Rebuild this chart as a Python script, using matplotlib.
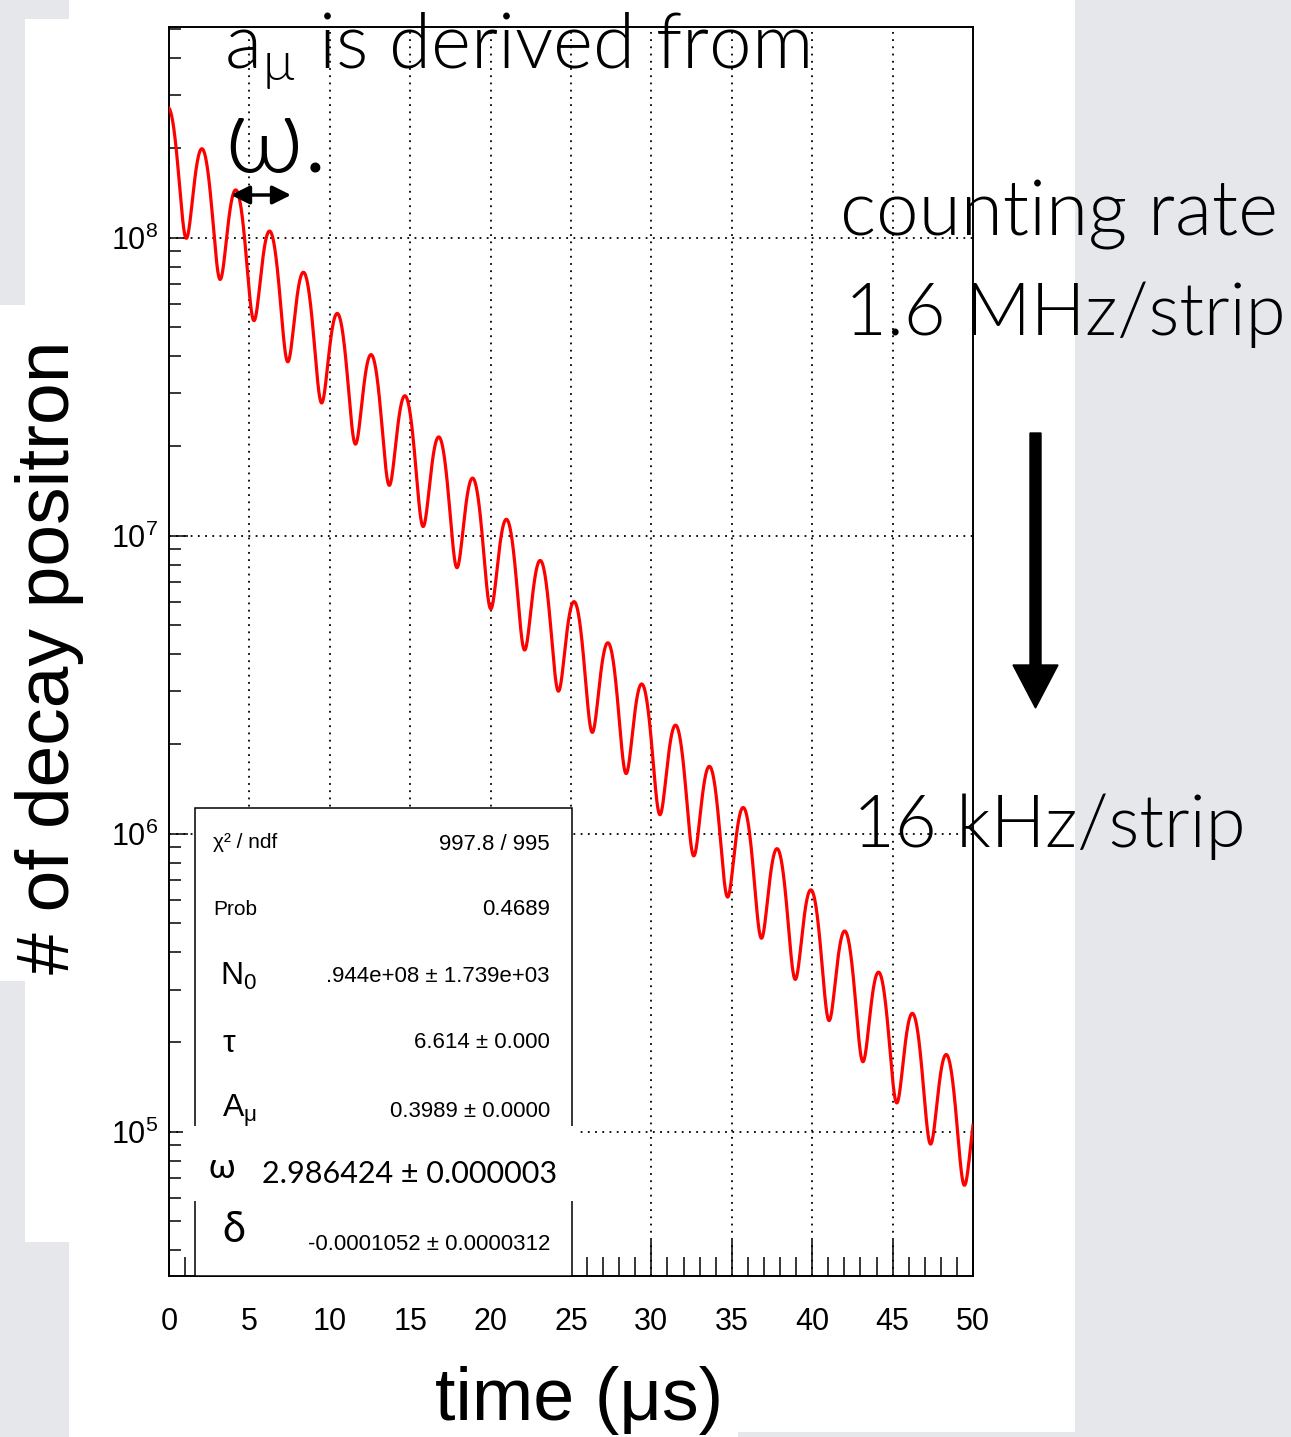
"""
Muon decay positron time spectrum (g-2 wiggle plot) with fit stat box
and slide annotations.
"""

import numpy as np
import matplotlib.pyplot as plt
from matplotlib.patches import Rectangle, FancyArrow

# ---------------------------------------------------------------------------
# data: fit result as printed in the stat box
# ---------------------------------------------------------------------------
N0 = 1.944e8
tau = 6.614
A_mu = 0.3989
omega = 2.986424
delta = -0.0001052

t_min, t_max = 0.0, 50.0
y_min, y_max = 3.28e4, 5.09e8
x_ticks = [0, 5, 10, 15, 20, 25, 30, 35, 40, 45, 50]
y_ticks = [1e5, 1e6, 1e7, 1e8]

stat_names = ["χ² / ndf", "Prob", r"N$_\mathregular{0}$", "τ",
              r"A$_\mathregular{μ}$", "ω", "δ"]
stat_values = ["997.8 / 995", "0.4689", ".944e+08 ± 1.739e+03",
               "6.614 ± 0.000", "0.3989 ± 0.0000", "2.986424 ± 0.000003",
               "-0.0001052 ± 0.0000312"]

W, H = 1291, 1437
ROOT_FONT = "Liberation Sans"
SLIDE_FONT = ["Lato", "Open Sans", "DejaVu Sans"]
SLIDE_WEIGHT = 300

plt.rcParams["font.family"] = [ROOT_FONT, "DejaVu Sans"]
plt.rcParams["mathtext.fontset"] = "custom"
plt.rcParams["mathtext.rm"] = ROOT_FONT
plt.rcParams["mathtext.it"] = ROOT_FONT


def fx(x):
    return x / W


def fy(y):
    return 1 - y / H


def wiggle(t):
    return N0 * np.exp(-t / tau) * (1 + A_mu * np.cos(omega * t + delta))


fig = plt.figure(figsize=(W / 100, H / 100), dpi=100)
fig.patch.set_facecolor("#e5e7ea")

# white picture area pasted on the slide
for (x0, y0, x1, y1) in [(69, 0, 1075, 1432), (25, 19, 69, 1242),
                         (0, 305, 25, 981), (69, 1432, 738, 1437)]:
    fig.add_artist(Rectangle((fx(x0), fy(y1)), fx(x1 - x0), (y1 - y0) / H,
                             transform=fig.transFigure, facecolor="white",
                             edgecolor="none", zorder=-5))

ax = fig.add_axes([fx(169), fy(1276), fx(973 - 169), (1276 - 27) / H])
ax.set_facecolor("white")
ax.set_yscale("log")
ax.set_xlim(t_min, t_max)
ax.set_ylim(y_min, y_max)

t = np.linspace(t_min, t_max, 3000)
ax.plot(t, wiggle(t), color="#ff0000", lw=2.3, zorder=3)

ax.set_xticks(x_ticks)
ax.set_xticks(np.arange(t_min, t_max + 0.5, 1.0), minor=True)
ax.set_yticks(y_ticks)
ax.grid(True, which="major", color="black", lw=1.3, ls=(0, (1, 3)))
for s in ["left", "right", "top", "bottom"]:
    ax.spines[s].set_linewidth(1.4)
ax.tick_params(axis="x", which="major", direction="in", length=26, width=1.1,
               labelsize=22, pad=22, top=False)
ax.tick_params(axis="x", which="minor", direction="in", length=13.5, width=1.1,
               top=False)
ax.tick_params(axis="y", which="major", direction="in", length=14, width=1.1,
               labelsize=22, pad=8, right=False)
ax.tick_params(axis="y", which="minor", direction="in", length=8.5, width=1.1,
               right=False)

# stat box
ax.add_patch(Rectangle(((195 - 169) / 804, 0), (572 - 195) / 804,
                       (1276 - 808) / 1249, transform=ax.transAxes,
                       facecolor="white", edgecolor="black", lw=1.1,
                       zorder=4, clip_on=False))

# white patch pasted over the omega row
fig.add_artist(Rectangle((fx(183), fy(1201)), fx(578 - 183), (1201 - 1126) / H,
                         transform=fig.transFigure, facecolor="white",
                         edgecolor="none", zorder=10))

name_pos = [(213, 848, 15), (213, 915, 15), (220, 985, 23), (222, 1052, 23),
            (222, 1117, 23), (208, 1178, 25), (222, 1242, 30)]
value_pos = [(550, 850, 16), (550, 915, 16), (550, 982, 16), (550, 1048, 16),
             (550, 1117, 16), (557, 1183, 22), (550, 1250, 16)]
for i, (name, value) in enumerate(zip(stat_names, stat_values)):
    nx, ny, ns = name_pos[i]
    vx, vy, vs = value_pos[i]
    slide_name = name in ("ω", "δ")
    fig.text(fx(nx), fy(ny), name, fontsize=ns,
             family=SLIDE_FONT if slide_name else [ROOT_FONT, "DejaVu Sans"],
             ha="left", va="baseline", zorder=11)
    fig.text(fx(vx), fy(vy), value, fontsize=vs,
             family=SLIDE_FONT if name == "ω" else [ROOT_FONT, "DejaVu Sans"],
             ha="right", va="baseline", zorder=11)

# axis titles
fig.text(fx(579), fy(1420), "time (μs)", fontsize=53, ha="center",
         va="baseline", zorder=11)
fig.text(fx(50), fy(657), "# of decay positron", fontsize=54, rotation=90,
         ha="center", va="center", zorder=11)

# slide annotations
slide_kw = dict(family=SLIDE_FONT, fontweight=SLIDE_WEIGHT, ha="left",
                va="baseline", zorder=11)
fig.text(fx(224), fy(68), r"a$_\mathregular{µ}$ is derived from", fontsize=55,
         **slide_kw)
fig.text(fx(224), fy(172), "ω.", fontsize=78, **slide_kw)
fig.text(fx(840), fy(235), "counting rate", fontsize=55, **slide_kw)
fig.text(fx(845), fy(335), "1.6 MHz/strip", fontsize=52, **slide_kw)
fig.text(fx(853), fy(847), "16 kHz/strip", fontsize=52, **slide_kw)

ax.annotate("", xy=(fx(291), fy(195)), xytext=(fx(231), fy(195)),
            xycoords="figure fraction", textcoords="figure fraction",
            arrowprops=dict(arrowstyle="<|-|>", color="black", lw=2.5,
                            mutation_scale=28, shrinkA=0, shrinkB=0),
            annotation_clip=False, zorder=11)

fig.add_artist(FancyArrow(1035.5 / 100, (H - 433) / 100, 0, -(708 - 433) / 100,
                          width=0.11, head_width=0.45, head_length=0.43,
                          length_includes_head=True, color="black",
                          transform=fig.dpi_scale_trans, zorder=11))

fig.savefig("out.png", dpi=100, facecolor=fig.get_facecolor())
